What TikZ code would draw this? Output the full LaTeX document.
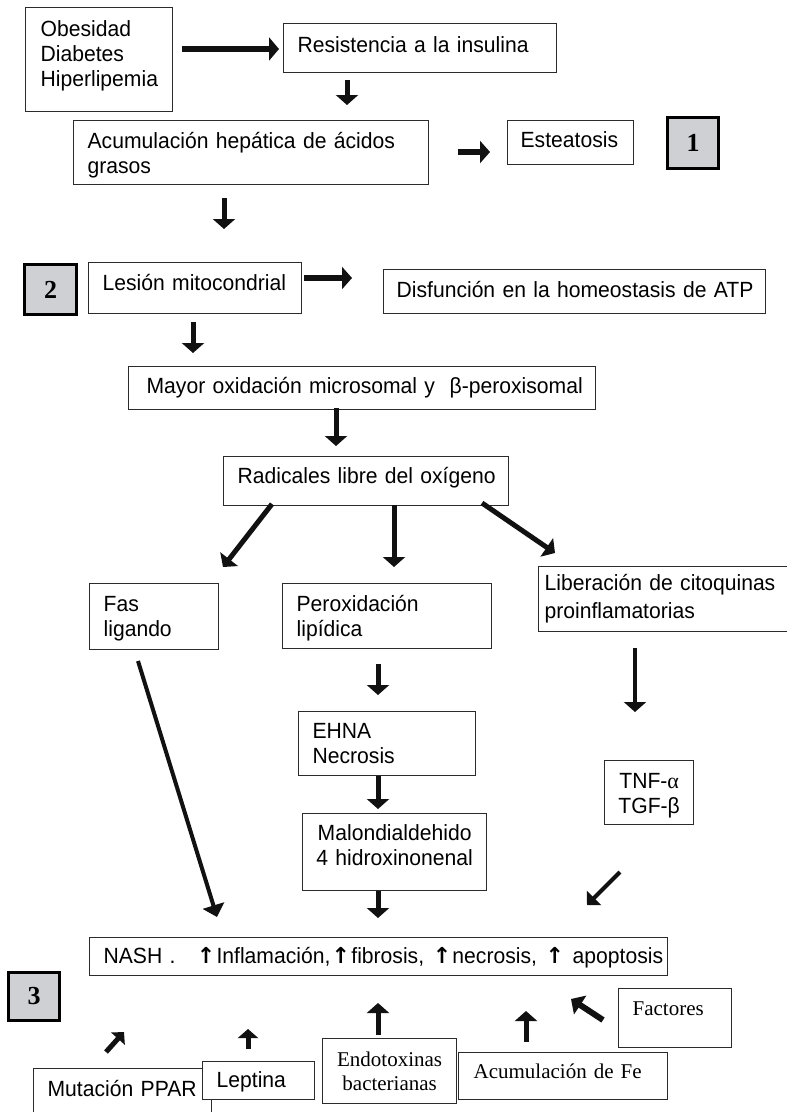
\documentclass[tikz,border=0pt]{standalone}
\usepackage{fontspec}
\setmainfont{Liberation Sans}[FakeStretch=0.96]
\newfontfamily\serifA{Liberation Serif}
\newfontfamily\dvs{DejaVu Sans}
\usetikzlibrary{arrows.meta}
\definecolor{boxc}{HTML}{2B2B2B}
\definecolor{numfill}{HTML}{CED0D4}
\definecolor{arrc}{HTML}{111111}
\newcommand{\uparw}{\makebox[21pt]{\dvs\bfseries ↑}}
\begin{document}
\begin{tikzpicture}[x=1pt,y=-1pt,
  box/.style={draw=boxc, line width=1.3pt, fill=white, anchor=north west, inner ysep=0pt, align=left, text height=15pt, font=\fontsize{22pt}{25pt}\selectfont},
  sbox/.style={box, font=\serifA\fontsize{21pt}{24pt}\selectfont},
  numbox/.style={draw=black, line width=3pt, fill=numfill, anchor=north west, inner sep=0pt, font=\serifA\bfseries\fontsize{26pt}{26pt}\selectfont},
  arr/.style={draw=arrc, line width=5pt, -{Triangle[width=22pt,length=10pt]}},
]
\clip (0,0) rectangle (787,1112);
\fill[white] (0,0) rectangle (787,1112);

% boxes
\node[box, inner xsep=15pt, text width=117pt, minimum height=104pt, text depth=61pt] (obes) at (25,7) {Obesidad\\Diabetes\\Hiperlipemia};
\node[box, inner xsep=14pt, text width=245pt, minimum height=49pt, text depth=6pt] (resist) at (283,23) {\mbox{Resistencia a la insulina}};
\node[box, inner xsep=14pt, text width=327pt, minimum height=64pt, text depth=23pt] (acum) at (73,120) {\mbox{Acumulación hepática de ácidos}\\grasos};
\node[box, inner xsep=13pt, text width=100pt, minimum height=44pt, text depth=5pt] (estea) at (507,120) {\mbox{Esteatosis}};
\node[numbox, minimum width=51pt, minimum height=51pt] (n1) at (666,116) {1};

\node[numbox, minimum width=52pt, minimum height=50pt] (n2) at (23,263) {2};
\node[box, inner xsep=14pt, text width=185pt, minimum height=51pt, text depth=10pt] (lesion) at (88,262) {\mbox{Lesión mitocondrial}};
\node[box, inner xsep=13pt, text width=356pt, minimum height=44pt, text depth=3pt] (disf) at (383,269) {\mbox{Disfunción en la homeostasis de ATP}};

\node[box, inner xsep=18pt, text width=431pt, minimum height=43pt, text depth=4pt] (mayor) at (128,366) {\mbox{Mayor oxidación microsomal y\ \ β-peroxisomal}};
\node[box, inner xsep=14pt, text width=257pt, minimum height=49pt, text depth=10pt] (radic) at (223,456) {\mbox{Radicales libre del oxígeno}};

\node[box, inner xsep=14pt, text width=101pt, minimum height=66pt, text depth=25pt] (fas) at (89,583) {Fas\\ligando};
\node[box, inner xsep=14pt, text width=181pt, minimum height=65pt, text depth=25pt] (perox) at (282,583) {Peroxidación\\lipídica};
\node[box, inner xsep=6pt, text width=260pt, minimum height=65pt, text depth=32pt] (liber) at (538,566) {\mbox{Liberación de citoquinas}\\[3pt]proinflamatorias};

\node[box, inner xsep=14pt, text width=149pt, minimum height=64pt, text depth=25pt] (ehna) at (298,711) {EHNA\\Necrosis};
\node[box, align=center, inner xsep=8pt, text width=168pt, minimum height=77pt, text depth=38pt] (malon) at (302,813) {Malondialdehido\\\mbox{4 hidroxinonenal}};
\node[box, align=center, inner xsep=7pt, text width=75pt, minimum height=64pt, text depth=23pt] (tnf) at (604,760) {TNF-{\serifA α}\\TGF-β};

\node[box, inner xsep=14pt, text width=550pt, minimum height=38pt, text depth=1pt] (nash) at (89,937) {\mbox{NASH .\hspace{20pt}\uparw Inflamación,\uparw fibrosis, \uparw necrosis, \uparw\ apoptosis}};
\node[numbox, minimum width=51pt, minimum height=48pt] (n3) at (7,971) {3};

\node[sbox, inner xsep=14pt, text width=85pt, minimum height=59pt, text depth=20pt] (factores) at (618,988) {Factores};
\node[box, inner xsep=14pt, text width=150pt, minimum height=62pt, text depth=21pt] (mutacion) at (33,1068) {\mbox{Mutación PPAR}};
\node[box, inner xsep=14pt, text width=84pt, minimum height=38pt, text depth=1pt] (leptina) at (202,1061) {Leptina};
\node[sbox, align=center, inner xsep=6pt, text width=122pt, minimum height=65pt, text depth=24pt] (endot) at (322,1038) {Endotoxinas\\bacterianas};
\node[sbox, inner xsep=15pt, text width=179pt, minimum height=47pt, text depth=10pt] (acumfe) at (458,1052) {\mbox{Acumulación de Fe}};

% arrow end points
\coordinate (a1s) at (182,49);  \coordinate (a1e) at (279,49);
\coordinate (a2s) at (347,80);  \coordinate (a2e) at (347,105);
\coordinate (a3s) at (458,152); \coordinate (a3e) at (490,152);
\coordinate (a4s) at (224,198); \coordinate (a4e) at (224,229);
\coordinate (a5s) at (304,278); \coordinate (a5e) at (352,278);
\coordinate (a6s) at (193,322); \coordinate (a6e) at (193,353);
\coordinate (a7s) at (336,408); \coordinate (a7e) at (336,446);
\coordinate (a8s) at (272,504); \coordinate (a8e) at (223,567);
\coordinate (a9s) at (394,505); \coordinate (a9e) at (394,567);
\coordinate (a10s) at (482,503); \coordinate (a10e) at (555,553);
\coordinate (a11s) at (138,661); \coordinate (a11e) at (217,917);
\coordinate (a12s) at (378,664); \coordinate (a12e) at (378,695);
\coordinate (a13s) at (635,648); \coordinate (a13e) at (635,712);
\coordinate (a14s) at (378,776); \coordinate (a14e) at (378,809);
\coordinate (a15s) at (378,891); \coordinate (a15e) at (378,918);
\coordinate (a16s) at (620,872); \coordinate (a16e) at (587,905);
\coordinate (a17s) at (106,1052); \coordinate (a17e) at (124,1032);
\coordinate (a18s) at (248,1049); \coordinate (a18e) at (248,1029);
\coordinate (a19s) at (378,1035); \coordinate (a19e) at (378,1003);
\coordinate (a20s) at (526,1042); \coordinate (a20e) at (526,1011);
\coordinate (a21s) at (603,1020); \coordinate (a21e) at (571,999);

\draw[arr, line width=6pt, -{Triangle[width=23pt,length=10pt]}] (a1s) -- (a1e);
\draw[arr] (a2s) -- (a2e);
\draw[arr, line width=6pt] (a3s) -- (a3e);
\draw[arr] (a4s) -- (a4e);
\draw[arr, line width=6pt] (a5s) -- (a5e);
\draw[arr] (a6s) -- (a6e);
\draw[arr] (a7s) -- (a7e);
\draw[arr] (a8s) -- (a8e);
\draw[arr] (a9s) -- (a9e);
\draw[arr] (a10s) -- (a10e);
\draw[arr, line width=4pt, -{Triangle[width=22pt,length=12pt]}] (a11s) -- (a11e);
\draw[arr] (a12s) -- (a12e);
\draw[arr, line width=4pt] (a13s) -- (a13e);
\draw[arr] (a14s) -- (a14e);
\draw[arr] (a15s) -- (a15e);
\draw[arr, line width=4pt, -{Triangle[width=20pt,length=10pt]}] (a16s) -- (a16e);
\draw[arr, -{Triangle[width=18pt,length=9pt]}] (a17s) -- (a17e);
\draw[arr, -{Triangle[width=20pt,length=9pt]}] (a18s) -- (a18e);
\draw[arr] (a19s) -- (a19e);
\draw[arr] (a20s) -- (a20e);
\draw[arr, line width=6pt, -{Triangle[width=22pt,length=11pt]}] (a21s) -- (a21e);
\end{tikzpicture}
\end{document}
